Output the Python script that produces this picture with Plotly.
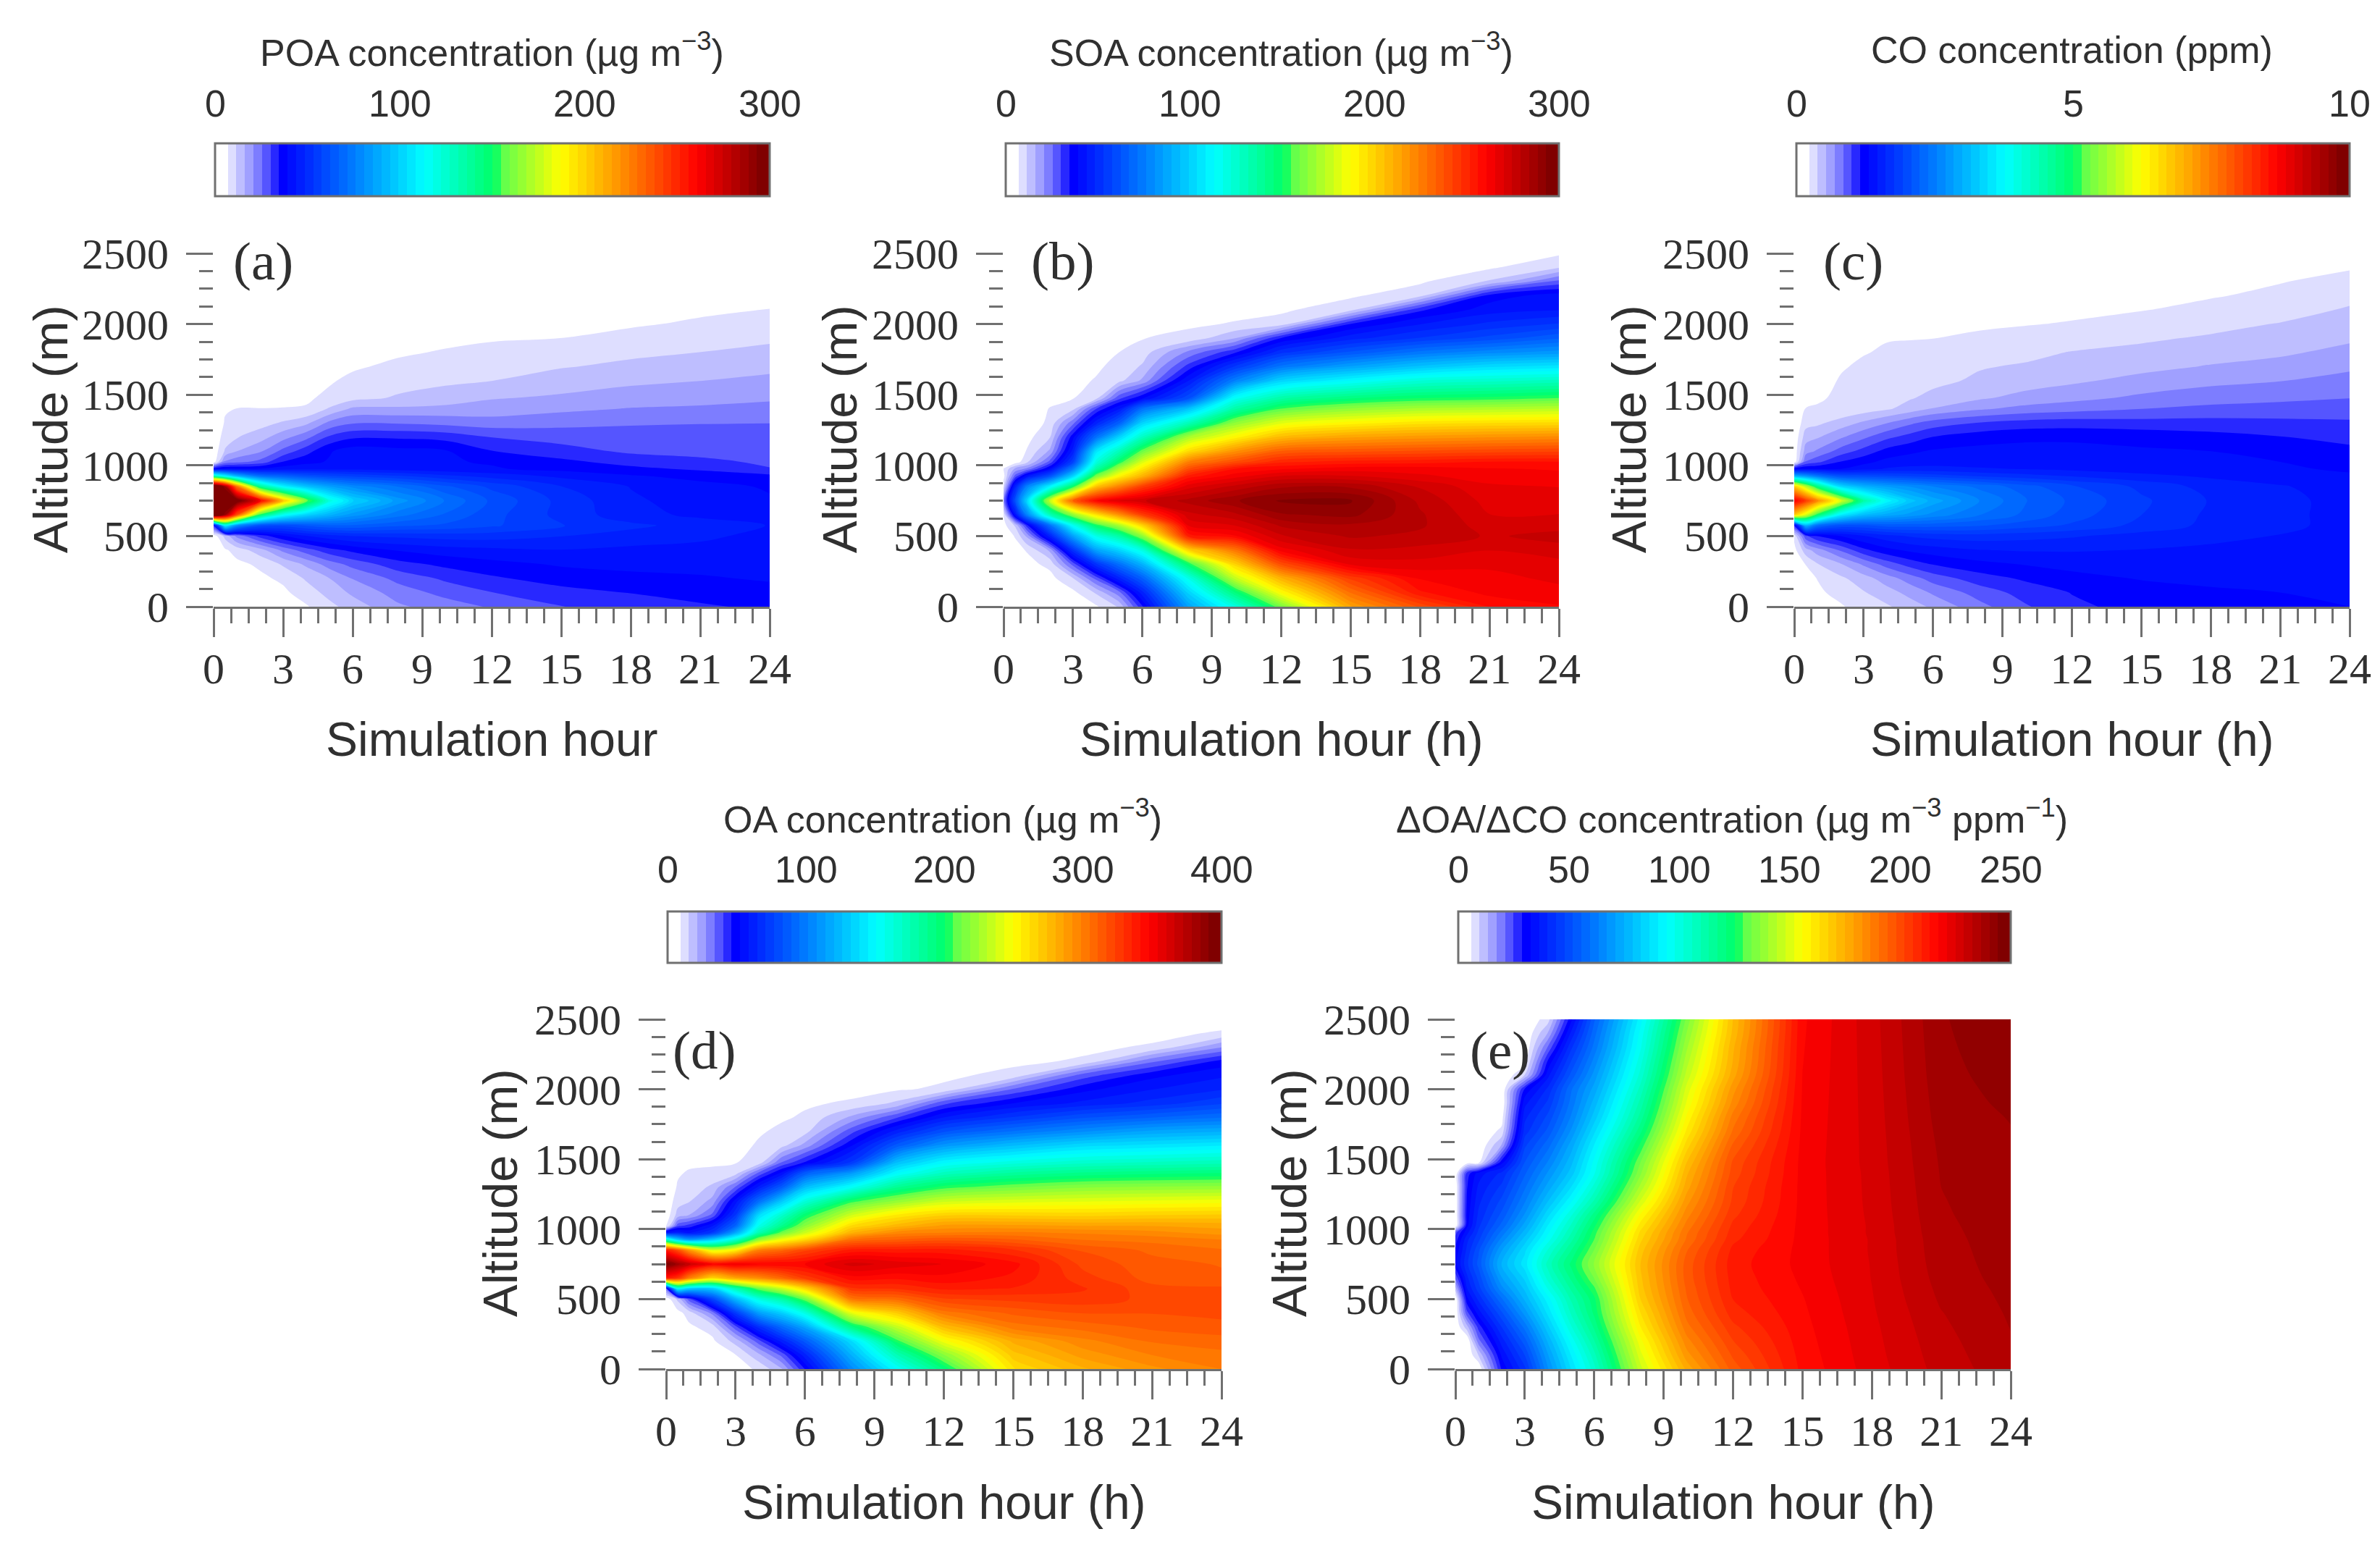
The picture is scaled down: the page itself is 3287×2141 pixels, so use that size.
import plotly.graph_objects as go

W, H = 3287, 2141
PAGE_INSET = 8  # the browser's default body margin

# Simulation hour columns and altitude rows shared by every panel
hours = [0, 0.5, 1, 2, 3, 4, 5, 6, 8, 10, 12, 15, 18, 21, 24]
altitudes = [0, 100, 200, 300, 400, 500, 575, 650, 750, 850, 925, 975, 1025, 1100, 1200, 1300,
             1400, 1475, 1600, 1700, 1800, 1900, 2000, 2100, 2200, 2300, 2400, 2500]

poa = [
    [0, 0, .5, 1.5, 2.5, 4.2, 8, 11.5, 18, 21, 24, 28, 30, 32, 34],
    [0, .5, 1.2, 2.5, 3.7, 7, 11, 15, 21, 25, 28, 31, 33, 35, 36],
    [.2, 1.2, 2.2, 3.7, 5.6, 10, 14, 19, 25, 29, 32, 35, 36, 37, 38],
    [.5, 2, 3.5, 5.5, 10, 15, 21, 25, 31, 34, 36, 38, 39, 39, 39],
    [1, 4, 6.5, 12, 20, 26, 31, 34, 38, 40, 41, 42, 41, 41, 40],
    [2, 11, 20, 30, 37, 42, 45, 47, 48, 49, 49, 47, 45, 43, 41],
    [30, 110, 80, 60, 58, 62, 65, 65, 62, 60, 57, 52, 48, 45, 42],
    [320, 290, 240, 150, 115, 100, 90, 82, 72, 65, 58, 50, 44, 41, 39],
    [330, 320, 305, 265, 205, 160, 120, 100, 82, 70, 60, 50, 43, 40, 38],
    [320, 290, 230, 140, 110, 95, 85, 78, 70, 62, 55, 47, 42, 39, 37],
    [130, 110, 90, 70, 65, 60, 57, 55, 52, 48, 45, 41, 38, 36, 34],
    [35, 38, 38, 38, 40, 41, 41, 41, 40, 39, 38, 36, 34, 32, 28.3],
    [2, 20, 22, 25, 33, 36, 38, 38, 38, 38, 37, 34, 31, 29, 27.5],
    [1.5, 10, 14, 18, 25, 31, 37, 40, 39, 38, 33, 30, 27.3, 26.9, 26.5],
    [1, 7, 9, 12, 17, 22, 29, 32, 32, 31, 28, 26.3, 25.3, 25, 25],
    [.5, 5.2, 6, 7.5, 10, 13, 20, 23, 23, 22, 21, 22, 23, 23.3, 23.4],
    [.3, 4.2, 4.75, 4.75, 4.8, 5, 10, 15, 15, 15.5, 16, 17.7, 19, 19.5, 20],
    [0, 3, 3.5, 3.8, 4, 4.2, 5.5, 8, 10, 11.5, 13.8, 14.8, 16.5, 17.2, 18.2],
    [0, 2, 2.5, 2.8, 3, 3.2, 4.3, 5.5, 7.5, 8.5, 9.3, 11.8, 13, 14, 15],
    [0, 1, 1.5, 1.8, 2, 2.3, 3, 4.2, 5.5, 6.8, 7.8, 9, 10.5, 11.6, 13],
    [0, 0, .5, 1, 1.2, 1.5, 2, 3, 4.2, 5, 5.8, 7, 8.3, 9.4, 10.5],
    [0, 0, 0, 0, .5, .8, 1, 2, 3, 3.8, 4.3, 4.7, 6, 7.2, 8.6],
    [0, 0, 0, 0, 0, 0, 0, 1, 2, 2.8, 3.2, 3.6, 4.2, 5.3, 6.7],
    [0, 0, 0, 0, 0, 0, 0, 0, 1, 1.8, 2.2, 2.6, 3.2, 4, 4.8],
    [0, 0, 0, 0, 0, 0, 0, 0, 0, 1, 1.2, 1.6, 2.2, 2.8, 3.4],
    [0, 0, 0, 0, 0, 0, 0, 0, 0, 0, .5, .8, 1.2, 1.8, 2.2],
    [0, 0, 0, 0, 0, 0, 0, 0, 0, 0, 0, .2, .5, .8, 1],
    [0, 0, 0, 0, 0, 0, 0, 0, 0, 0, 0, 0, 0, 0, 0],
]

soa = [
    [0, 0, 0, .5, 2, 4, 10, 32, 85, 120, 160, 215, 240, 258, 262],
    [0, 0, .5, 1.5, 3.5, 10, 22, 45, 100, 145, 188, 230, 257, 264, 266],
    [0, .5, 1.5, 3, 9, 25, 45, 65, 118, 175, 210, 245, 263, 266, 268],
    [.5, 1.5, 3, 6, 25, 50, 70, 90, 150, 200, 240, 268, 270, 268, 270],
    [1, 3, 5, 15, 50, 85, 100, 120, 200, 228, 265, 276, 275, 272, 275],
    [2, 5, 15, 45, 85, 118, 135, 165, 255, 262, 276, 282, 280, 276, 278],
    [3, 10, 30, 70, 115, 150, 170, 200, 268, 272, 282, 285, 282, 274, 275],
    [5, 40, 75, 130, 165, 195, 220, 245, 275, 280, 290, 292, 282, 272, 272],
    [20, 60, 100, 175, 235, 262, 272, 276, 283, 290, 296, 296, 280, 270, 270],
    [8, 45, 75, 110, 150, 205, 225, 245, 270, 278, 285, 285, 276, 268, 267],
    [3, 25, 40, 60, 100, 160, 190, 210, 255, 265, 272, 272, 268, 265, 264],
    [5, 15, 20, 38, 75, 135, 170, 195, 240, 258, 262, 265, 265, 263, 262],
    [1, 2, 8, 25, 55, 120, 150, 180, 225, 240, 252, 255, 256, 258, 258],
    [0, 1, 5, 15, 44, 105, 130, 158, 198, 220, 235, 238, 240, 242, 243],
    [0, .5, 3, 9, 36, 70, 100, 128, 170, 190, 208, 215, 218, 220, 222],
    [0, 0, 1, 6, 22, 45, 65, 100, 130, 165, 182, 190, 195, 197, 198],
    [0, 0, .5, 5, 8, 28, 42, 70, 95, 135, 155, 165, 170, 172, 174],
    [0, 0, .3, 3, 4.5, 8, 27, 37, 60, 115, 135, 145, 150, 152, 155],
    [0, 0, 0, 2, 3.5, 5, 8, 15, 42, 75, 100, 112, 122, 125, 128],
    [0, 0, 0, 1, 2.5, 4, 6, 10, 30, 52, 72, 85, 95, 102, 105],
    [0, 0, 0, 0, 1.5, 3, 4.7, 7, 20, 32, 50, 62, 72, 78, 82],
    [0, 0, 0, 0, .5, 2, 3.5, 4.5, 6, 14, 33, 45, 52, 58, 65],
    [0, 0, 0, 0, 0, 1, 2, 3, 4, 5, 7, 33, 42, 48, 52],
    [0, 0, 0, 0, 0, 0, 1, 2, 3, 3.5, 3.8, 8, 32, 40, 42],
    [0, 0, 0, 0, 0, 0, 0, 1, 2, 2.5, 2.8, 4, 8, 35, 40],
    [0, 0, 0, 0, 0, 0, 0, 0, 1, 1.5, 2, 3, 4, 10, 25],
    [0, 0, 0, 0, 0, 0, 0, 0, 0, .5, 1, 2, 3, 4, 9],
    [0, 0, 0, 0, 0, 0, 0, 0, 0, 0, 0, 1, 2, 3, 4],
]

co = [
    [0, .03, .08, .14, .22, .29, .39, .5, .73, .92, 1.06, 1.15, 1.2, 1.23, 1.25],
    [0, .07, .13, .2, .3, .4, .52, .65, .85, 1.0, 1.1, 1.18, 1.23, 1.25, 1.27],
    [.02, .11, .16, .28, .4, .55, .7, .85, 1.02, 1.12, 1.2, 1.26, 1.28, 1.29, 1.29],
    [.05, .16, .3, .45, .65, .85, 1.0, 1.1, 1.2, 1.26, 1.3, 1.32, 1.32, 1.32, 1.31],
    [.1, .4, .55, .8, 1.05, 1.2, 1.28, 1.33, 1.4, 1.42, 1.42, 1.4, 1.38, 1.36, 1.33],
    [.2, .9, 1.1, 1.25, 1.4, 1.5, 1.58, 1.62, 1.65, 1.62, 1.58, 1.5, 1.44, 1.4, 1.35],
    [1.0, 3.0, 2.3, 2.0, 2.0, 2.1, 2.1, 2.1, 2.05, 1.95, 1.85, 1.67, 1.52, 1.44, 1.36],
    [6.8, 6, 5, 3.6, 3.1, 2.9, 2.75, 2.6, 2.35, 2.15, 1.95, 1.72, 1.53, 1.44, 1.36],
    [8.8, 8.2, 7.4, 6, 4.5, 3.7, 3.2, 2.9, 2.5, 2.2, 2, 1.75, 1.55, 1.45, 1.35],
    [6.8, 5.8, 4.8, 3.4, 3, 2.8, 2.65, 2.5, 2.3, 2.1, 1.9, 1.68, 1.5, 1.42, 1.33],
    [3, 2.7, 2.4, 2, 1.95, 1.9, 1.85, 1.8, 1.7, 1.62, 1.55, 1.45, 1.38, 1.33, 1.27],
    [1.2, 1.25, 1.25, 1.25, 1.35, 1.42, 1.45, 1.45, 1.42, 1.4, 1.37, 1.33, 1.3, 1.27, 1.23],
    [.05, .8, .9, 1.1, 1.2, 1.3, 1.33, 1.35, 1.35, 1.35, 1.34, 1.3, 1.27, 1.25, 1.2],
    [.04, .55, .65, .85, 1.0, 1.15, 1.22, 1.27, 1.3, 1.3, 1.3, 1.27, 1.25, 1.2, 1.13],
    [.03, .4, .45, .6, .75, .9, 1.0, 1.1, 1.18, 1.22, 1.22, 1.2, 1.15, 1.1, 1.05],
    [.02, .25, .28, .38, .5, .62, .75, .85, .95, 1.0, 1.02, 1.0, 1.0, .98, .96],
    [.01, .16, .17, .18, .23, .29, .38, .48, .6, .68, .72, .78, .82, .84, .86],
    [0, .13, .14, .18, .22, .25, .3, .36, .45, .52, .58, .66, .72, .75, .78],
    [0, .1, .11, .165, .19, .21, .23, .27, .34, .4, .44, .52, .58, .62, .67],
    [0, .07, .08, .145, .175, .19, .2, .22, .3, .33, .36, .42, .48, .53, .6],
    [0, .05, .05, .12, .15, .17, .18, .2, .23, .27, .32, .35, .4, .44, .52],
    [0, .03, .03, .09, .12, .15, .152, .155, .175, .2, .23, .29, .33, .38, .44],
    [0, 0, .01, .06, .09, .11, .12, .13, .14, .15, .165, .22, .27, .32, .38],
    [0, 0, 0, .03, .06, .08, .09, .1, .11, .12, .13, .15, .2, .25, .33],
    [0, 0, 0, 0, .03, .05, .06, .07, .08, .09, .1, .12, .145, .19, .27],
    [0, 0, 0, 0, 0, .02, .03, .04, .05, .06, .07, .09, .11, .15, .2],
    [0, 0, 0, 0, 0, 0, 0, .01, .02, .03, .04, .06, .08, .11, .145],
    [0, 0, 0, 0, 0, 0, 0, 0, 0, 0, .01, .02, .03, .05, .08],
]

oa = [
    [0, 0, .5, 1, 3, 7.5, 18, 44, 103, 151, 194, 262, 280, 292, 300],
    [0, .5, 1, 2.5, 6, 17, 33, 60, 119, 175, 218, 272, 290, 300, 304],
    [.3, 1.2, 2.5, 5, 15, 35, 59, 84, 137, 204, 247, 283, 298, 307, 310],
    [.6, 2, 5, 9, 35, 65, 91, 115, 191, 234, 276, 303, 309, 314, 316],
    [1, 4, 9, 27, 70, 111, 131, 159, 243, 270, 303, 314, 319, 319, 321],
    [2, 14, 35, 75, 122, 160, 180, 212, 303, 309, 324, 327, 329, 323, 323],
    [30, 150, 130, 130, 175, 212, 235, 265, 330, 332, 339, 337, 332, 321, 320],
    [340, 330, 300, 265, 285, 295, 310, 327, 347, 345, 348, 342, 328, 316, 314],
    [400, 385, 370, 350, 355, 350, 350, 350, 365, 360, 356, 346, 323, 315, 312],
    [340, 320, 290, 240, 255, 300, 310, 323, 340, 340, 340, 332, 318, 311, 307],
    [170, 130, 110, 130, 165, 220, 247, 265, 307, 313, 317, 313, 306, 304, 300],
    [55, 60, 55, 70, 115, 176, 211, 236, 280, 297, 300, 301, 299, 296, 291],
    [3, 35, 40, 55, 88, 156, 188, 218, 263, 278, 289, 289, 287, 287, 285],
    [2, 15, 19, 33, 69, 136, 167, 198, 237, 258, 268, 268, 267, 269, 270],
    [1, 10, 12, 21, 53, 92, 129, 162, 203, 221, 236, 241, 243, 245, 247],
    [.5, 7, 8, 14, 32, 58, 85, 124, 153, 187, 203, 212, 218, 220, 221],
    [0, 5.5, 7, 7.5, 10, 33, 52, 85, 110, 150, 171, 183, 189, 192, 194],
    [0, 3.5, 5, 5.5, 6, 9, 32, 45, 70, 126, 149, 160, 167, 170, 173],
    [0, 2, 3, 3.5, 4, 7, 10, 21, 49, 84, 109, 124, 135, 139, 143],
    [0, 1, 2, 2.5, 3, 5.5, 7.5, 10, 35, 59, 80, 94, 105, 114, 118],
    [0, 0, 1, 1.5, 2, 4, 5.5, 7, 20, 37, 56, 69, 80, 87, 93],
    [0, 0, 0, .5, 1, 2.5, 3.5, 5.5, 7, 14, 36, 50, 58, 65, 74],
    [0, 0, 0, 0, 0, 1, 2, 3.5, 4.5, 5.5, 7.5, 32, 48, 56, 62],
    [0, 0, 0, 0, 0, 0, 1, 2, 3, 4, 5, 8, 34, 48, 55],
    [0, 0, 0, 0, 0, 0, 0, 1, 2, 3, 3.5, 5, 7, 30, 46],
    [0, 0, 0, 0, 0, 0, 0, 0, 1, 2, 2.5, 3.5, 5, 7, 25],
    [0, 0, 0, 0, 0, 0, 0, 0, 0, 1, 1.5, 2.5, 3.5, 4.5, 7],
    [0, 0, 0, 0, 0, 0, 0, 0, 0, 0, .5, 1.5, 2.5, 3, 3.5],
]

doa_dco = [
    [0, 0, 0, 28, 42, 66, 86, 104, 147, 177, 197, 216, 224.6, 232, 237],
    [0, 0, 8, 32, 47, 70, 90, 108, 151, 182, 200, 216.5, 225, 232.5, 237.5],
    [0, 0, 18, 37, 53, 75, 95, 113, 155, 186, 203, 217, 225.3, 233, 238],
    [0, 10, 25, 43, 60, 81, 101, 118, 160, 190, 206, 217.5, 225.6, 233.6, 238.4],
    [0, 22, 33, 50, 68, 87, 106, 122, 164, 193, 209, 218, 226, 234.2, 238.8],
    [0, 30, 40, 58, 75, 92, 110, 124, 168, 195, 211, 218.5, 226.3, 235, 239.2],
    [10, 35, 45, 65, 79, 98, 114, 128, 170, 196, 212, 219, 226.5, 235.5, 239.5],
    [20, 38, 48, 70, 83, 103, 118, 133, 171, 197, 212.5, 219.5, 226.7, 236, 239.8],
    [30, 42, 52, 75, 88, 107, 122, 137, 172, 197, 213, 220, 226.8, 236.5, 240],
    [28, 40, 50, 70, 85, 102, 117, 133, 170, 195, 212, 220, 227, 236.8, 240.2],
    [25, 38, 46, 64, 80, 96, 112, 129, 167, 192, 210, 220, 227, 237, 240.4],
    [22, 34, 44, 60, 76, 93, 109, 127, 165, 191, 209, 220, 227.2, 237.2, 240.5],
    [0, 30, 42, 56, 72, 90, 106, 124, 162, 189, 208, 220, 227.2, 237.4, 240.6],
    [0, 29, 40, 52, 67, 85, 101, 119, 157, 186, 206, 220, 227.4, 237.7, 240.8],
    [0, 28, 38, 48, 62, 78, 93, 110, 149, 182, 204, 220, 227.6, 238, 241],
    [0, 27, 36, 44, 58, 72, 86, 103, 142, 178, 203, 220, 227.7, 238.3, 241.2],
    [0, 25, 33, 40, 54, 67, 80, 97, 136, 175, 201, 220, 227.8, 238.6, 241.4],
    [0, 2, 3, 30, 51, 63, 77, 95, 133, 172, 200, 220, 228, 238.8, 241.6],
    [0, 0, 0, 12, 46, 57, 72, 90, 126, 166, 196, 219.8, 228.1, 239.2, 241.8],
    [0, 0, 0, 5, 41, 52, 67, 85, 120, 161, 192, 219.6, 228.2, 239.6, 242],
    [0, 0, 0, 2, 38, 48, 63, 80, 115, 157, 189, 219.4, 228.3, 240, 242.4],
    [0, 0, 0, 0, 34, 44, 60, 76, 111, 153, 185, 219.2, 228.4, 240.3, 243],
    [0, 0, 0, 0, 28, 40, 58, 72, 107, 150, 182, 219, 228.5, 240.6, 243.5],
    [0, 0, 0, 0, 8, 34, 52, 68, 103, 146, 178, 218.8, 228.6, 240.9, 244],
    [0, 0, 0, 0, 2, 28, 47, 64, 100, 143, 176, 218.6, 228.7, 241.1, 244.5],
    [0, 0, 0, 0, 0, 20, 42, 60, 97, 140, 175, 218.4, 228.8, 241.3, 245],
    [0, 0, 0, 0, 0, 12, 36, 57, 95, 137, 173, 218.2, 228.9, 241.5, 245.5],
    [0, 0, 0, 0, 0, 6, 30, 54, 92, 134, 172, 218, 229, 241.7, 246],
]

# Shared colour scale: plotly samples band i of 64 at (i + 1) / 65
scale = [
    [0.000, "rgb(255,255,255)"], [0.0154, "rgb(255,255,255)"], [0.0308, "rgb(222,222,255)"],
    [0.0462, "rgb(190,190,255)"], [0.0615, "rgb(160,160,255)"], [0.0769, "rgb(125,125,255)"],
    [0.0923, "rgb(85,85,255)"], [0.1077, "rgb(40,40,255)"], [0.1231, "rgb(0,0,255)"],
    [0.254, "rgb(0,128,255)"], [0.377, "rgb(0,255,255)"], [0.505, "rgb(0,255,100)"],
    [0.515, "rgb(90,255,80)"], [0.623, "rgb(255,255,0)"], [0.746, "rgb(255,128,0)"],
    [0.869, "rgb(255,0,0)"], [0.985, "rgb(128,0,0)"], [1.000, "rgb(128,0,0)"],
]
bands = 64

panels = [
    dict(z=poa, zmax=300, ticks=[0, 100, 200, 300], cb="POA concentration (µg m<sup>−3</sup>)",
         xt="Simulation hour", tag="(a)", x0=295, x1=1063, y0=350, y1=838, bx0=297, by0=201, by1=274,
         tx=679, ty=69, cty=143, xty=1021, yx=69, yy=593, lx=363, ly=361),
    dict(z=soa, zmax=300, ticks=[0, 100, 200, 300], cb="SOA concentration (µg m<sup>−3</sup>)",
         xt="Simulation hour (h)", tag="(b)", x0=1386, x1=2153, y0=350, y1=838, bx0=1389, by0=201, by1=274,
         tx=1769, ty=69, cty=143, xty=1021, yx=1159, yy=593, lx=1467, ly=361),
    dict(z=co, zmax=10, ticks=[0, 5, 10], cb="CO concentration (ppm)",
         xt="Simulation hour (h)", tag="(c)", x0=2478, x1=3245, y0=350, y1=838, bx0=2481, by0=201, by1=274,
         tx=2861, ty=69, cty=143, xty=1021, yx=2249, yy=593, lx=2559, ly=361),
    dict(z=oa, zmax=400, ticks=[0, 100, 200, 300, 400], cb="OA concentration (µg m<sup>−3</sup>)",
         xt="Simulation hour (h)", tag="(d)", x0=920, x1=1687, y0=1408, y1=1891, bx0=922, by0=1262, by1=1333,
         tx=1302, ty=1128, cty=1201, xty=2075, yx=690, yy=1648, lx=973, ly=1450),
    dict(z=doa_dco, zmax=250, ticks=[0, 50, 100, 150, 200, 250],
         cb="ΔOA/ΔCO concentration (µg m<sup>−3</sup> ppm<sup>−1</sup>)",
         xt="Simulation hour (h)", tag="(e)", x0=2010, x1=2777, y0=1408, y1=1891, bx0=2014, by0=1262, by1=1333,
         tx=2392, ty=1128, cty=1201, xty=2075, yx=1780, yy=1648, lx=2071, ly=1450),
]

SERIF = "Liberation Serif"
SANS = "Liberation Sans"
INK = "#303030"
TICK = "#707070"

fig = go.Figure()
annotations = []
shapes = []
layout = {}


def px(x):
    return (x - PAGE_INSET) / W


def py(y):
    return 1 - (y - PAGE_INSET) / H


def note(text, x, y, size, family, angle=0):
    annotations.append(dict(text=text, x=px(x), y=py(y), xref="paper", yref="paper",
                            xanchor="center", yanchor="middle", showarrow=False, textangle=angle,
                            font=dict(size=size, family=family, color=INK)))


for i, p in enumerate(panels):
    n = "" if i == 0 else str(i + 1)
    fig.add_trace(go.Contour(
        x=hours, y=altitudes, z=p["z"], xaxis="x" + n, yaxis="y" + n,
        colorscale=scale, autocontour=False,
        contours=dict(start=0, end=p["zmax"], size=p["zmax"] / bands, coloring="fill", showlines=False),
        line=dict(width=0),
        hoverinfo="skip",
        colorbar=dict(
            orientation="h", x=px(p["bx0"]), xanchor="left", y=py(p["by1"]), yanchor="bottom",
            len=(p["x1"] - p["bx0"]) / W, lenmode="fraction",
            thickness=p["by1"] - p["by0"], thicknessmode="pixels", xpad=0, ypad=0,
            tickvals=[], showticklabels=False, ticks="", outlinecolor=TICK, outlinewidth=3,
        ),
    ))
    layout["xaxis" + n] = dict(
        domain=[px(p["x0"]), px(p["x1"])], anchor="y" + n, range=[0, 24], tick0=0, dtick=3,
        ticks="outside", ticklen=39, tickwidth=3, tickcolor=TICK, showline=True, linecolor=TICK,
        linewidth=3, showgrid=False, zeroline=False, ticklabelstandoff=-8,
        tickfont=dict(size=60, family=SERIF, color=INK),
        minor=dict(ticks="outside", dtick=0.75, tick0=0, ticklen=20, tickwidth=3, tickcolor=TICK, showgrid=False),
    )
    layout["yaxis" + n] = dict(
        domain=[py(p["y1"]), py(p["y0"])], anchor="x" + n, range=[0, 2500], tick0=0, dtick=500,
        ticks="outside", ticklen=37, tickwidth=3, tickcolor=TICK, showline=False, showgrid=False,
        zeroline=False, ticklabelstandoff=12, tickfont=dict(size=60, family=SERIF, color=INK),
        minor=dict(ticks="outside", dtick=125, tick0=0, ticklen=19, tickwidth=3, tickcolor=TICK, showgrid=False),
    )
    note(p["cb"], p["tx"], p["ty"], 52, SANS)
    for v in p["ticks"]:
        tick_x = p["bx0"] + v / p["zmax"] * (p["x1"] - p["bx0"])
        note(str(v), tick_x, p["cty"], 52, SANS)
        if 0 < v < p["zmax"]:
            shapes.append(dict(type="line", xref="paper", yref="paper", x0=px(tick_x), x1=px(tick_x),
                               y0=py(p["by0"]), y1=py(p["by0"] + 8), line=dict(color="#505050", width=3)))
    note(p["xt"], (p["x0"] + p["x1"]) / 2, p["xty"], 66, SANS)
    note("Altitude (m)", p["yx"], p["yy"], 67, SANS, angle=-90)
    note(p["tag"], p["lx"], p["ly"], 75, SERIF)

fig.update_layout(width=W, height=H, margin=dict(l=0, r=0, t=0, b=0, autoexpand=False), paper_bgcolor="white",
                  plot_bgcolor="white", showlegend=False, annotations=annotations, shapes=shapes, **layout)
fig.write_html("out.html")
